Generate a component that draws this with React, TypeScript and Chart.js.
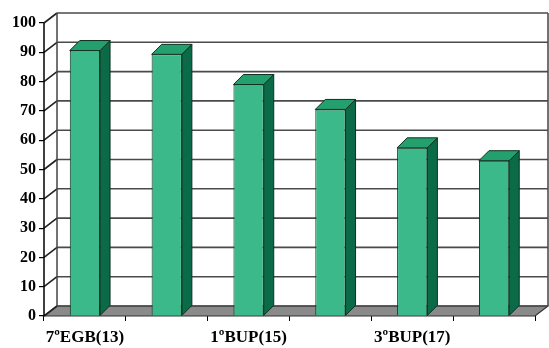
import React, { useEffect, useRef } from "react";
import { Chart, registerables } from "chart.js";

Chart.register(...registerables);

const categories = ["7ºEGB(13)", "", "1ºBUP(15)", "", "3ºBUP(17)", ""];
const values = [90.6, 89.3, 79, 70.5, 57.4, 53];
const yMin = 0;
const yMax = 100;
const yStep = 10;

const WALL_DX = 13;
const WALL_DY = -10;
const BAR_DX = 10;
const BAR_DY = -10;

const FRONT = "#3cb98b";
const TOP = "#24a06f";
const SIDE = "#0b6b48";
const EDGE = "#10301f";

const threeD = {
  id: "threeD",
  beforeDatasetsDraw(chart: any) {
    const { ctx, chartArea, scales } = chart;
    const y = scales.y;
    const { left, right, top, bottom } = chartArea;
    ctx.save();
    ctx.beginPath();
    ctx.moveTo(left, bottom);
    ctx.lineTo(right, bottom);
    ctx.lineTo(right + WALL_DX, bottom + WALL_DY);
    ctx.lineTo(left + WALL_DX, bottom + WALL_DY);
    ctx.closePath();
    ctx.fillStyle = "#8a8a8a";
    ctx.fill();
    ctx.strokeStyle = "#333";
    ctx.lineWidth = 1.2;
    ctx.stroke();
    for (let v = yMin; v <= yMax; v += yStep) {
      const py = y.getPixelForValue(v);
      ctx.strokeStyle = "#4a4a4a";
      ctx.lineWidth = 1.6;
      ctx.beginPath();
      ctx.moveTo(left + WALL_DX, py + WALL_DY);
      ctx.lineTo(right + WALL_DX, py + WALL_DY);
      ctx.stroke();
      ctx.beginPath();
      ctx.strokeStyle = "#222";
      ctx.moveTo(left, py);
      ctx.lineTo(left + WALL_DX, py + WALL_DY);
      ctx.stroke();
    }
    ctx.strokeStyle = "#444";
    ctx.lineWidth = 1.5;
    ctx.beginPath();
    ctx.moveTo(left + WALL_DX, top + WALL_DY);
    ctx.lineTo(left + WALL_DX, bottom + WALL_DY);
    ctx.moveTo(right + WALL_DX, top + WALL_DY);
    ctx.lineTo(right + WALL_DX, bottom + WALL_DY);
    ctx.stroke();
    ctx.strokeStyle = "#000";
    ctx.lineWidth = 1.5;
    ctx.beginPath();
    ctx.moveTo(left, top);
    ctx.lineTo(left, bottom);
    ctx.stroke();
    ctx.restore();
  },
  afterDatasetsDraw(chart: any) {
    const { ctx } = chart;
    const meta = chart.getDatasetMeta(0);
    ctx.save();
    ctx.lineWidth = 1;
    ctx.strokeStyle = EDGE;
    ctx.lineJoin = "round";
    meta.data.forEach((bar: any) => {
      const { x, y, base, width } = bar.getProps(["x", "y", "base", "width"], true);
      const l = x - width / 2;
      const r = x + width / 2;
      ctx.beginPath();
      ctx.moveTo(r, y);
      ctx.lineTo(r + BAR_DX, y + BAR_DY);
      ctx.lineTo(r + BAR_DX, base + BAR_DY);
      ctx.lineTo(r, base);
      ctx.closePath();
      ctx.fillStyle = SIDE;
      ctx.fill();
      ctx.stroke();
      ctx.beginPath();
      ctx.moveTo(l, y);
      ctx.lineTo(l + BAR_DX, y + BAR_DY);
      ctx.lineTo(r + BAR_DX, y + BAR_DY);
      ctx.lineTo(r, y);
      ctx.closePath();
      ctx.fillStyle = TOP;
      ctx.fill();
      ctx.stroke();
    });
    ctx.restore();
  },
};

export default function App() {
  const ref = useRef<HTMLCanvasElement | null>(null);
  useEffect(() => {
    document.body.style.margin = "0";
    const canvas = ref.current;
    if (!canvas) return;
    const chart = new Chart(canvas, {
      type: "bar",
      data: {
        labels: categories,
        datasets: [
          {
            data: values,
            backgroundColor: FRONT,
            borderColor: EDGE,
            borderWidth: 1,
            categoryPercentage: 1,
            barPercentage: 0.37,
          },
        ],
      },
      options: {
        responsive: false,
        animation: false,
        devicePixelRatio: 1,
        layout: { padding: { top: 23, right: 14, left: 0, bottom: 0 } },
        plugins: { legend: { display: false }, tooltip: { enabled: false } },
        scales: {
          x: {
            border: { display: false },
            grid: { drawOnChartArea: false, drawTicks: true, tickLength: 5, color: "#000", lineWidth: 1 },
            ticks: {
              autoSkip: false,
              maxRotation: 0,
              padding: 6,
              color: "#000",
              font: { family: "'Liberation Serif', 'Times New Roman', serif", size: 17, weight: "bold" },
            },
            afterFit(scale: any) {
              scale.height = 32;
            },
          },
          y: {
            min: yMin,
            max: yMax,
            border: { display: false },
            grid: { drawOnChartArea: false, drawTicks: true, tickLength: 5, color: "#000", lineWidth: 1.2 },
            ticks: {
              stepSize: yStep,
              padding: 3,
              color: "#000",
              font: { family: "'Liberation Serif', 'Times New Roman', serif", size: 16, weight: "bold" },
            },
            afterFit(scale: any) {
              scale.width = 44;
            },
          },
        },
      },
      plugins: [threeD],
    });
    return () => chart.destroy();
  }, []);
  return (
    <div style={{ width: 549, height: 348, background: "#fff" }}>
      <canvas ref={ref} width={549} height={348} />
    </div>
  );
}
